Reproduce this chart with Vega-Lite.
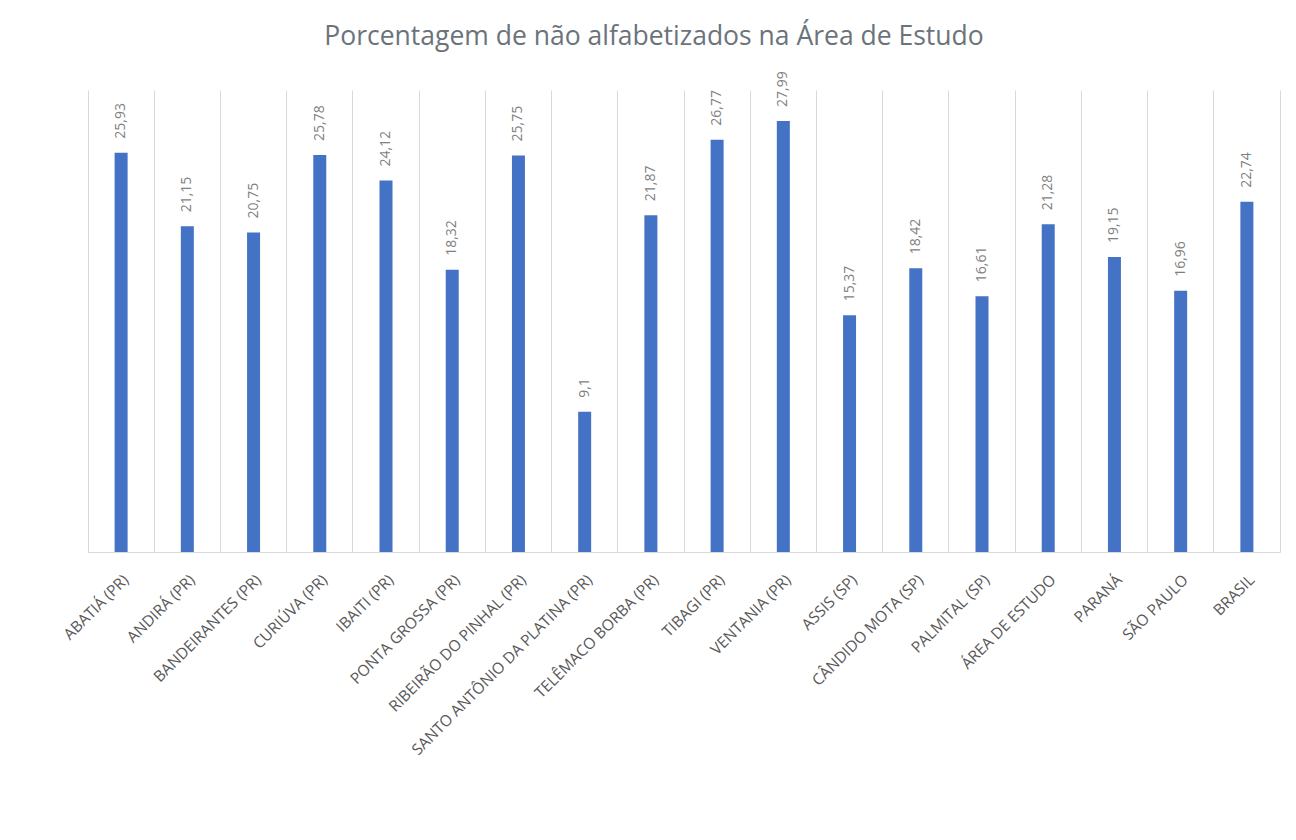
{
  "$schema": "https://vega.github.io/schema/vega-lite/v6.json",
  "width": 1192,
  "height": 462,
  "autosize": {"type": "none"},
  "padding": {"left": 88, "top": 90, "right": 16, "bottom": 288},
  "background": "white",
  "title": {
    "text": "Porcentagem de não alfabetizados na Área de Estudo",
    "font": "Open Sans",
    "fontSize": 26.5,
    "fontWeight": "normal",
    "color": "#6B737B",
    "anchor": "middle",
    "dx": -30,
    "offset": 21
  },
  "config": {"view": {"stroke": null}},
  "data": {
    "values": [
      {"name": "ABATIÁ (PR)", "value": 25.93, "label": "25,93"},
      {"name": "ANDIRÁ (PR)", "value": 21.15, "label": "21,15"},
      {"name": "BANDEIRANTES (PR)", "value": 20.75, "label": "20,75"},
      {"name": "CURIÚVA (PR)", "value": 25.78, "label": "25,78"},
      {"name": "IBAITI (PR)", "value": 24.12, "label": "24,12"},
      {"name": "PONTA GROSSA (PR)", "value": 18.32, "label": "18,32"},
      {"name": "RIBEIRÃO DO PINHAL (PR)", "value": 25.75, "label": "25,75"},
      {"name": "SANTO ANTÔNIO DA PLATINA (PR)", "value": 9.1, "label": "9,1"},
      {"name": "TELÊMACO BORBA (PR)", "value": 21.87, "label": "21,87"},
      {"name": "TIBAGI (PR)", "value": 26.77, "label": "26,77"},
      {"name": "VENTANIA (PR)", "value": 27.99, "label": "27,99"},
      {"name": "ASSIS (SP)", "value": 15.37, "label": "15,37"},
      {"name": "CÂNDIDO MOTA (SP)", "value": 18.42, "label": "18,42"},
      {"name": "PALMITAL (SP)", "value": 16.61, "label": "16,61"},
      {"name": "ÁREA DE ESTUDO", "value": 21.28, "label": "21,28"},
      {"name": "PARANÁ", "value": 19.15, "label": "19,15"},
      {"name": "SÃO PAULO", "value": 16.96, "label": "16,96"},
      {"name": "BRASIL", "value": 22.74, "label": "22,74"}
    ]
  },
  "layer": [
    {
      "mark": {"type": "bar", "size": 13, "color": "#4472C4"},
      "encoding": {
        "x": {
          "field": "name", "type": "nominal", "sort": null,
          "scale": {"paddingInner": 0, "paddingOuter": 0},
          "axis": {
            "title": null, "labelAngle": -45, "labelFont": "Open Sans", "labelFontSize": 15.5,
            "labelColor": "#595959", "labelPadding": 20, "ticks": false, "grid": false,
            "domainColor": "#D9D9D9", "domainWidth": 1, "labelLimit": 500
          }
        },
        "y": {
          "field": "value", "type": "quantitative",
          "scale": {"domain": [0, 30], "nice": false},
          "axis": {"orient": "right", "title": null, "labels": false, "ticks": false, "grid": false, "domainColor": "#D9D9D9"}
        }
      }
    },
    {
      "mark": {"type": "text", "angle": -90, "align": "left", "baseline": "middle", "dx": 14, "font": "Open Sans", "fontSize": 14, "color": "#7F7F7F"},
      "encoding": {
        "x": {
          "field": "name", "type": "nominal", "sort": null,
          "axis": {"title": null, "labels": false, "ticks": false, "domain": false, "grid": true, "bandPosition": 0, "gridColor": "#D9D9D9", "gridWidth": 1}
        },
        "y": {"field": "value", "type": "quantitative", "axis": null},
        "text": {"field": "label"}
      }
    }
  ],
  "resolve": {"axis": {"x": "independent", "y": "independent"}}
}
